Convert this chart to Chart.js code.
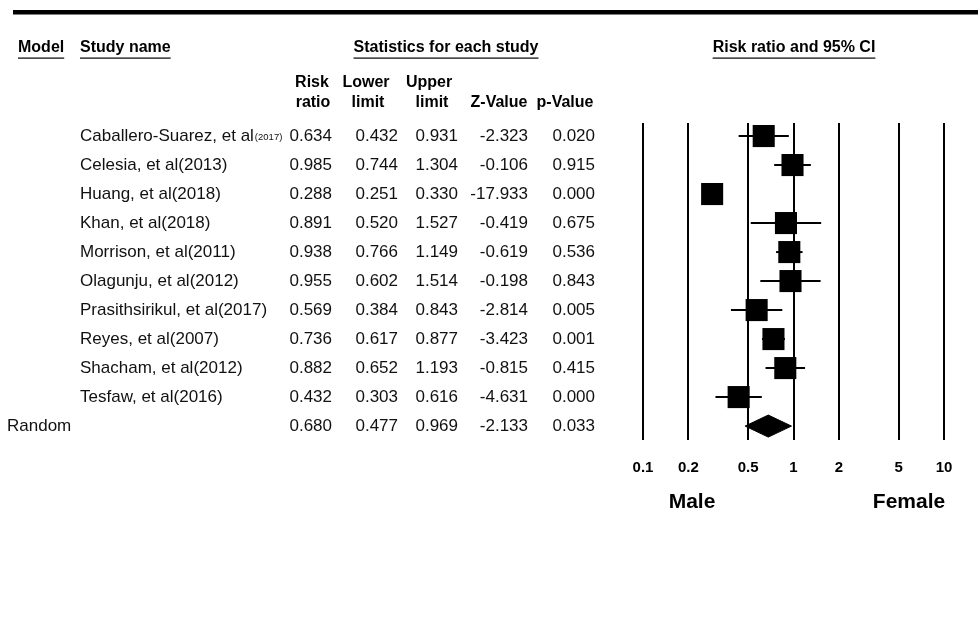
<!DOCTYPE html>
<html>
<head>
<meta charset="utf-8">
<script src="https://cdn.jsdelivr.net/npm/chart.js@4.4.1/dist/chart.umd.min.js"></script>
<style>
  html, body { margin: 0; padding: 0; background: #fff; }
  #wrap { width: 978px; height: 630px; }
</style>
</head>
<body>
<div id="wrap"><canvas id="chart" width="978" height="630"></canvas></div>
<script>
// ---- data ----
const studyNames = [
  'Caballero-Suarez, et al',
  'Celesia, et al(2013)',
  'Huang, et al(2018)',
  'Khan, et al(2018)',
  'Morrison, et al(2011)',
  'Olagunju, et al(2012)',
  'Prasithsirikul, et al(2017)',
  'Reyes, et al(2007)',
  'Shacham, et al(2012)',
  'Tesfaw, et al(2016)'
];
const studyYearSmall = ['(2017)', '', '', '', '', '', '', '', '', ''];
const riskRatio  = [0.634, 0.985, 0.288, 0.891, 0.938, 0.955, 0.569, 0.736, 0.882, 0.432];
const lowerLimit = [0.432, 0.744, 0.251, 0.520, 0.766, 0.602, 0.384, 0.617, 0.652, 0.303];
const upperLimit = [0.931, 1.304, 0.330, 1.527, 1.149, 1.514, 0.843, 0.877, 1.193, 0.616];
const zValue     = [-2.323, -0.106, -17.933, -0.419, -0.619, -0.198, -2.814, -3.423, -0.815, -4.631];
const pValue     = [0.020, 0.915, 0.000, 0.675, 0.536, 0.843, 0.005, 0.001, 0.415, 0.000];

const pooledModel = 'Random';
const pooledRR = 0.680;
const pooledLower = 0.477;
const pooledUpper = 0.969;
const pooledZ = -2.133;
const pooledP = 0.033;

const xTicks = [0.1, 0.2, 0.5, 1, 2, 5, 10];

const FONT = '"Liberation Sans", Arial, sans-serif';
const pooledRow = studyNames.length;
const diamondHalf = 0.38; // half height of the summary diamond, in row units

const boxData = riskRatio.map((v, i) => ({ x: v, y: i }));

const ciSets = lowerLimit.map((lo, i) => ({
  type: 'line',
  data: [{ x: lo, y: i }, { x: upperLimit[i], y: i }],
  borderColor: '#000',
  borderWidth: 2,
  pointRadius: 0,
  order: 3
}));

const diamondSet = {
  type: 'line',
  data: [
    { x: pooledLower, y: pooledRow },
    { x: pooledRR, y: pooledRow - diamondHalf },
    { x: pooledUpper, y: pooledRow },
    { x: pooledRR, y: pooledRow + diamondHalf },
    { x: pooledLower, y: pooledRow }
  ],
  fill: 'shape',
  backgroundColor: '#000',
  borderColor: '#000',
  borderWidth: 1,
  pointRadius: 0,
  tension: 0,
  order: 2
};

// draws the table on the left, headers and axis captions
const tablePlugin = {
  id: 'forestTable',
  afterDraw(chart) {
    const ctx = chart.ctx;
    const ys = chart.scales.y;
    ctx.save();
    ctx.fillStyle = '#000';

    // thick rule at top
    ctx.fillRect(13, 10, 965, 4.5);

    ctx.textBaseline = 'middle';

    function underlined(text, x, y, align) {
      ctx.textAlign = align;
      ctx.fillText(text, x, y);
      const w = ctx.measureText(text).width;
      const x0 = align === 'center' ? x - w / 2 : x;
      ctx.fillRect(x0, y + 9.5, w, 1.2);
    }

    ctx.font = 'bold 16px ' + FONT;
    underlined('Model', 18, 48, 'left');
    underlined('Study name', 80, 48, 'left');
    underlined('Statistics for each study', 446, 48, 'center');
    underlined('Risk ratio and 95% CI', 794, 48, 'center');

    ctx.textAlign = 'center';
    ctx.fillText('Risk', 312, 83);
    ctx.fillText('ratio', 313, 103);
    ctx.fillText('Lower', 366, 83);
    ctx.fillText('limit', 368, 103);
    ctx.fillText('Upper', 429, 83);
    ctx.fillText('limit', 432, 103);
    ctx.fillText('Z-Value', 499, 103);
    ctx.fillText('p-Value', 565, 103);

    const colRight = [332, 398, 458, 528, 595];
    function rowValues(vals, y) {
      ctx.textAlign = 'right';
      vals.forEach((v, k) => ctx.fillText(v.toFixed(3), colRight[k], y));
    }

    ctx.fillStyle = '#111';
    studyNames.forEach((name, i) => {
      const y = ys.getPixelForValue(i);
      ctx.font = '17px ' + FONT;
      ctx.textAlign = 'left';
      ctx.fillText(name, 80, y);
      if (studyYearSmall[i]) {
        const w = ctx.measureText(name).width;
        ctx.font = '9.5px ' + FONT;
        ctx.fillText(studyYearSmall[i], 80 + w + 1, y + 1);
        ctx.font = '17px ' + FONT;
      }
      rowValues([riskRatio[i], lowerLimit[i], upperLimit[i], zValue[i], pValue[i]], y);
    });

    const yp = ys.getPixelForValue(pooledRow);
    ctx.font = '17px ' + FONT;
    ctx.textAlign = 'left';
    ctx.fillText(pooledModel, 7, yp);
    rowValues([pooledRR, pooledLower, pooledUpper, pooledZ, pooledP], yp);

    ctx.fillStyle = '#000';
    ctx.font = 'bold 21px ' + FONT;
    ctx.textAlign = 'center';
    ctx.fillText('Male', 692, 502);
    ctx.fillText('Female', 909, 502);
    ctx.restore();
  }
};

const ctx = document.getElementById('chart').getContext('2d');
new Chart(ctx, {
  type: 'scatter',
  data: {
    datasets: [
      {
        data: boxData,
        pointStyle: 'rect',
        pointRadius: 15.6,
        pointHoverRadius: 15.6,
        backgroundColor: '#000',
        borderWidth: 0,
        order: 1
      },
      diamondSet,
      ...ciSets
    ]
  },
  options: {
    responsive: false,
    animation: false,
    events: [],
    layout: { padding: { left: 643, right: 34, top: 123, bottom: 150 } },
    plugins: { legend: { display: false }, tooltip: { enabled: false } },
    scales: {
      x: {
        type: 'logarithmic',
        min: 0.1,
        max: 10,
        afterBuildTicks: s => { s.ticks = xTicks.map(v => ({ value: v })); },
        afterFit: s => { s.height = 40; },
        ticks: {
          callback: v => String(v),
          autoSkip: false,
          maxRotation: 0,
          padding: 19,
          color: '#000',
          font: { family: FONT, size: 15, weight: 'bold' }
        },
        grid: { color: '#000', lineWidth: 2, drawTicks: false },
        border: { display: false }
      },
      y: {
        type: 'linear',
        reverse: true,
        min: -0.45,
        max: 10.48,
        display: false
      }
    }
  },
  plugins: [tablePlugin]
});
</script>
</body>
</html>
